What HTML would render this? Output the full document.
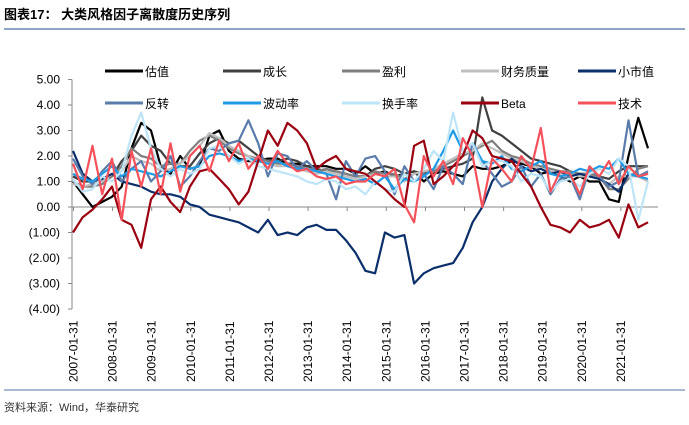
<!DOCTYPE html>
<html><head><meta charset="utf-8">
<style>
html,body{margin:0;padding:0;background:#fff;}
body{width:689px;height:420px;overflow:hidden;font-family:"Liberation Sans","Noto Sans CJK SC",sans-serif;}
</style></head>
<body>
<svg id="chart" width="689" height="420" xmlns="http://www.w3.org/2000/svg" font-family="Liberation Sans, Noto Sans CJK SC, sans-serif">
<text x="4" y="19" font-size="13" font-weight="bold" fill="#000">图表17：  大类风格因子离散度历史序列</text>
<line x1="4" y1="29" x2="685" y2="29" stroke="#8ea4c4" stroke-width="2"/>
<line x1="4" y1="390" x2="685" y2="390" stroke="#8ea4c4" stroke-width="1.5"/>
<text x="4" y="411" font-size="11" fill="#333">资料来源：Wind，华泰研究</text>
<g id="axes"></g>
<g id="series"></g>
<g id="legend"></g>
</svg>
<script>
const yTicks=[5,4,3,2,1,0,-1,-2,-3,-4];
const yTickLabels=["5.00","4.00","3.00","2.00","1.00","0.00","(1.00)","(2.00)","(3.00)","(4.00)"];
const xLabels=["2007-01-31","2008-01-31","2009-01-31","2010-01-31","2011-01-31","2012-01-31","2013-01-31","2014-01-31","2015-01-31","2016-01-31","2017-01-31","2018-01-31","2019-01-31","2020-01-31","2021-01-31"];
const seriesNames=["估值","成长","盈利","财务质量","小市值","反转","波动率","换手率","Beta","技术"];
const valuation=[1.0,0.5,0.0,0.2,0.4,0.8,2.3,3.3,3.0,1.6,1.3,2.0,1.5,1.6,2.8,3.0,2.2,1.9,1.8,1.8,1.9,1.9,1.7,1.7,1.6,1.6,1.6,1.5,1.5,1.3,1.6,1.3,1.4,1.2,1.3,1.4,1.0,1.3,1.4,1.3,1.2,1.6,1.5,1.5,1.6,1.8,1.7,1.6,1.3,1.4,1.2,1.0,1.2,1.0,1.0,0.3,0.2,2.0,3.5,2.3];
const growth=[1.2,1.0,1.0,1.1,1.2,1.8,2.2,2.8,2.4,2.2,1.7,1.6,1.6,2.1,2.5,2.7,2.5,2.6,2.3,2.0,1.8,1.8,1.9,1.8,1.6,1.5,1.4,1.4,1.3,1.2,1.2,1.5,1.6,1.5,1.3,1.4,1.3,1.4,1.5,1.6,1.7,1.9,4.3,3.0,2.8,2.5,2.2,1.9,1.8,1.7,1.6,1.4,1.3,1.3,1.2,1.1,1.4,1.6,1.6,1.6];
const profit=[1.0,0.8,0.8,0.9,1.2,1.6,2.3,2.0,1.9,1.6,1.7,1.7,2.2,2.6,2.8,2.6,2.3,2.1,2.0,1.9,1.8,1.7,1.7,1.6,1.5,1.4,1.5,1.4,1.3,1.2,1.2,1.4,1.3,1.3,1.1,1.3,1.4,1.4,1.6,1.8,2.0,2.2,2.4,2.6,2.2,2.0,1.9,1.7,1.6,1.5,1.4,1.4,1.3,1.3,1.2,0.7,0.7,1.1,1.5,1.6];
const quality=[0.9,0.8,0.9,1.0,1.3,1.4,2.0,1.8,1.7,1.4,1.5,1.7,2.0,2.4,2.9,2.7,2.4,2.2,2.0,1.8,1.7,1.6,1.6,1.5,1.4,1.3,1.4,1.3,1.2,1.1,1.2,1.3,1.2,1.2,1.0,1.3,1.4,1.5,1.7,1.9,2.1,2.2,2.5,2.3,2.1,1.9,1.8,1.6,1.5,1.4,1.3,1.3,1.2,1.2,1.1,0.9,1.2,1.2,1.2,1.0];
const smallCap=[2.2,1.3,1.0,1.1,1.3,1.0,0.9,0.8,0.6,0.5,0.5,0.4,0.1,0.0,-0.3,-0.4,-0.5,-0.6,-0.8,-1.0,-0.5,-1.1,-1.0,-1.1,-0.8,-0.7,-0.9,-0.9,-1.3,-1.8,-2.5,-2.6,-1.0,-1.2,-1.1,-3.0,-2.6,-2.4,-2.3,-2.2,-1.6,-0.6,0.0,1.0,1.5,1.9,1.6,1.4,1.5,1.3,1.4,1.2,1.3,1.2,1.1,0.9,0.6,1.3,1.2,1.3];
const reversal=[1.9,1.2,0.9,1.4,1.8,1.0,1.5,1.8,1.0,1.4,2.0,0.8,1.2,1.8,2.3,2.2,2.5,2.6,3.4,2.5,1.2,2.1,2.0,1.5,1.8,1.4,1.3,0.3,1.8,1.2,1.9,2.0,1.4,0.5,1.6,1.0,1.3,0.7,1.6,1.3,0.9,2.5,1.8,1.3,0.8,1.0,1.6,0.8,1.3,0.5,1.1,1.2,0.3,1.5,1.2,0.8,1.0,3.4,1.2,1.4];
const volatility=[1.3,1.1,1.0,1.3,1.6,1.2,1.5,1.4,1.3,1.2,1.4,1.6,1.5,1.6,2.0,2.1,2.0,1.8,1.9,1.8,1.7,1.8,1.6,1.5,1.5,1.4,1.3,1.2,1.1,1.0,1.1,0.9,1.2,0.7,1.1,1.0,1.2,1.5,2.2,3.0,2.2,2.5,1.8,1.7,2.0,1.5,1.4,1.6,1.8,1.3,1.2,1.3,1.5,1.4,1.6,1.5,1.9,1.3,1.2,1.1];
const turnover=[1.1,0.6,0.7,1.2,1.0,1.4,2.8,3.7,2.3,1.5,1.2,1.5,1.3,1.5,2.3,2.4,2.0,1.7,1.9,1.6,1.5,1.4,1.3,1.2,1.0,0.9,1.1,1.0,0.7,0.8,0.5,1.0,0.7,0.6,1.3,1.0,1.5,2.2,1.8,3.7,2.2,2.5,1.6,1.8,1.8,1.6,1.0,1.3,1.2,0.6,1.0,1.1,0.8,1.3,1.5,1.3,1.9,1.6,-0.5,1.0];
const beta=[-1.0,-0.4,-0.1,0.3,0.8,-0.5,-0.7,-1.6,0.3,0.8,0.2,-0.2,0.8,1.4,1.5,1.1,0.7,0.1,0.6,1.8,3.0,2.4,3.3,3.0,2.5,1.5,1.8,2.0,1.5,1.4,1.3,1.0,0.7,0.3,0.0,2.4,2.6,0.9,1.2,1.6,2.0,3.0,2.7,2.0,1.9,1.8,1.3,0.8,0.0,-0.7,-0.8,-1.0,-0.5,-0.8,-0.7,-0.5,-1.2,0.1,-0.8,-0.6];
const technical=[1.7,0.7,2.4,0.5,1.9,-0.5,2.2,0.8,2.3,0.5,2.5,0.6,2.0,2.4,1.4,2.6,1.8,2.5,1.5,2.0,1.5,2.2,1.7,1.4,1.5,1.2,1.1,1.2,0.9,1.0,1.0,1.3,1.2,1.5,0.1,-0.6,2.0,1.2,1.8,0.9,2.7,2.0,0.0,1.9,1.5,1.0,2.0,1.5,3.1,0.6,1.4,1.3,0.5,1.6,1.2,1.8,0.9,1.6,1.2,1.3];

const NS="http://www.w3.org/2000/svg";
const plotL=72, plotR=658, y0pix=207, unit=25.5;
const yScale=v=>y0pix-v*unit;
const nPts=valuation.length;
const xScale=i=>73+i*(575/(nPts-1));
const xYear=k=>73.5+k*39.1;
function mk(tag,attrs,parent){const e=document.createElementNS(NS,tag);for(const k in attrs)e.setAttribute(k,attrs[k]);parent.appendChild(e);return e;}
const axes=document.getElementById('axes');
const ya=mk('line',{x1:plotL,y1:yScale(5),x2:plotL,y2:yScale(-4),stroke:'#888','stroke-width':1},axes);


yTicks.forEach((v,k)=>{
  const t=mk('line',{x1:plotL-4,y1:yScale(v),x2:plotL,y2:yScale(v),stroke:'#888'},axes);
  
  
  const l=mk('text',{x:plotL-12,y:yScale(v)+4,'text-anchor':'end','font-size':12,fill:'#000'},axes);
  l.textContent=yTickLabels[k];
  
  
});
const za=mk('line',{x1:plotL,y1:y0pix,x2:plotR,y2:y0pix,stroke:'#888','stroke-width':1},axes);


xLabels.forEach((s,k)=>{
  const x=xYear(k);
  const t=mk('line',{x1:x,y1:y0pix,x2:x,y2:y0pix+4,stroke:'#888'},axes);
  
  
  const l=mk('text',{x:0,y:0,transform:`translate(${x+4},382) rotate(-90)`,'font-size':12,fill:'#000'},axes);
  l.textContent=s;
  
  
});
const data=[valuation,growth,profit,quality,smallCap,reversal,volatility,turnover,beta,technical];
const colors=["#000000","#404040","#7f7f7f","#bfbfbf","#0b2f6b","#5a7cab","#1f9be6","#bde4f7","#9b0010","#f5515b"];
const keys=["valuation","growth","profit","quality","small-cap","reversal","volatility","turnover","beta","technical"];
const sg=document.getElementById('series');
data.forEach((arr,s)=>{
  const d=arr.map((v,i)=>(i?'L':'M')+xScale(i).toFixed(1)+','+yScale(v).toFixed(1)).join(' ');
  const p=mk('path',{d:d,fill:'none',stroke:colors[s],'stroke-width':2.2,'stroke-linejoin':'round'},sg);
  
  
});
const lg=document.getElementById('legend');
const cols=[105,223,342,461,578];
seriesNames.forEach((n,k)=>{
  const x=cols[k%5], y=k<5?71:103;
  const sw=mk('line',{x1:x,y1:y,x2:x+38,y2:y,stroke:colors[k],'stroke-width':3},lg);
  
  
  const t=mk('text',{x:x+40,y:y+5,'font-size':12,fill:'#000'},lg);
  t.textContent=n;
  
  
});
</script>
</body></html>
